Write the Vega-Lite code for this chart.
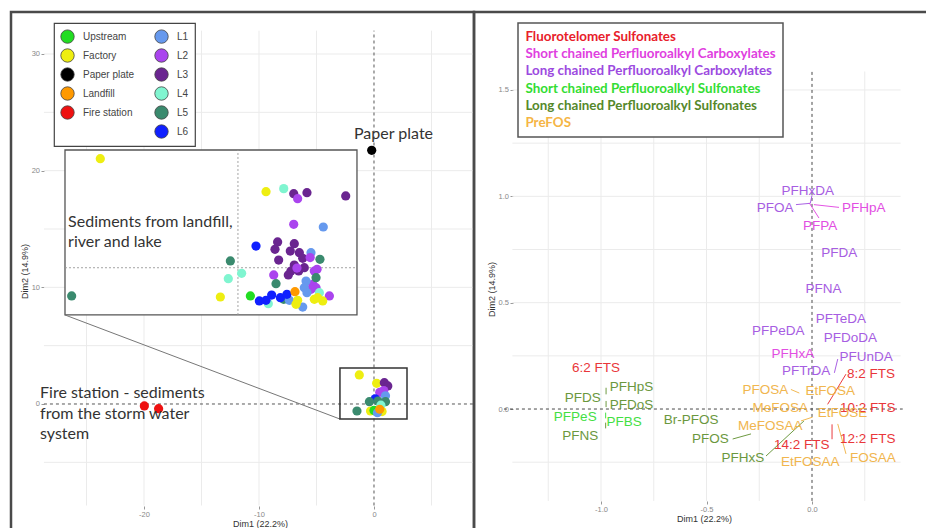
{
  "$schema": "https://vega.github.io/schema/vega-lite/v6.json",
  "background": "white",
  "padding": {"left": 9, "top": 10, "right": 0, "bottom": 0},
  "bounds": "flush",
  "spacing": 0,
  "resolve": {
    "scale": {"x": "independent", "y": "independent", "color": "independent"},
    "legend": {"color": "independent"}
  },
  "config": {
    "font": "Liberation Sans",
    "view": {"stroke": "#4a4a4a", "strokeWidth": 2.5},
    "axis": {
      "grid": false, "domain": false, "tickColor": "#999", "tickSize": 3,
      "labelFont": "Liberation Sans", "labelFontSize": 7.5, "labelColor": "#888", "labelPadding": 1.5,
      "titleFont": "Liberation Sans", "titleFontSize": 9, "titleFontWeight": "normal", "titleColor": "#333", "titlePadding": 1.5
    }
  },
  "datasets": {
    "gridL": [
      {"x": -25, "x2": -25, "y": -8.7, "y2": 32},
      {"x": -20, "x2": -20, "y": -8.7, "y2": 32},
      {"x": -15, "x2": -15, "y": -8.7, "y2": 32},
      {"x": -10, "x2": -10, "y": -8.7, "y2": 32},
      {"x": -5, "x2": -5, "y": -8.7, "y2": 32},
      {"x": 5, "x2": 5, "y": -8.7, "y2": 32},
      {"x": -28.7, "x2": 8.6, "y": -5, "y2": -5},
      {"x": -28.7, "x2": 8.6, "y": 5, "y2": 5},
      {"x": -28.7, "x2": 8.6, "y": 10, "y2": 10},
      {"x": -28.7, "x2": 8.6, "y": 15, "y2": 15},
      {"x": -28.7, "x2": 8.6, "y": 20, "y2": 20},
      {"x": -28.7, "x2": 8.6, "y": 25, "y2": 25},
      {"x": -28.7, "x2": 8.6, "y": 30, "y2": 30}
    ],
    "refL": [
      {"x": 0, "x2": 0, "y": -8.7, "y2": 32},
      {"x": -28.7, "x2": 8.6, "y": 0, "y2": 0}
    ],
    "insetBox": [{"x": -26.87, "x2": -1.48, "y": 7.63, "y2": 21.77}],
    "insetLines": [
      {"x": -11.83, "x2": -11.83, "y": 7.63, "y2": 21.77},
      {"x": -26.87, "x2": -1.48, "y": 11.68, "y2": 11.68}
    ],
    "connector": [{"x": -26.87, "y": 7.63, "x2": -2.96, "y2": -1.29}],
    "smallBox": [{"x": -2.96, "x2": 2.87, "y": -1.29, "y2": 3.09}],
    "points": [
      {"site": "Paper plate", "x": -0.2, "y": 21.74},
      {"site": "Fire station", "x": -19.97, "y": -0.17},
      {"site": "Fire station", "x": -18.73, "y": -0.4},
      {"site": "Factory", "x": -1.28, "y": 2.49},
      {"site": "Factory", "x": 0.23, "y": 1.77},
      {"site": "L3", "x": 0.9, "y": 1.83},
      {"site": "L3", "x": 1.2, "y": 1.55},
      {"site": "L2", "x": 0.5, "y": 1.0},
      {"site": "L2", "x": 0.85, "y": 1.15},
      {"site": "L1", "x": 1.0, "y": 0.7},
      {"site": "L6", "x": 0.1, "y": 0.45},
      {"site": "L5", "x": -0.4, "y": 0.2},
      {"site": "L5", "x": 0.35, "y": 0.25},
      {"site": "L5", "x": 1.0, "y": 0.2},
      {"site": "L4", "x": 0.6, "y": -0.1},
      {"site": "L5", "x": -1.48, "y": -0.6},
      {"site": "Factory", "x": -0.3, "y": -0.6},
      {"site": "Upstream", "x": 0.0, "y": -0.55},
      {"site": "Factory", "x": 0.7, "y": -0.65},
      {"site": "L1", "x": 0.3, "y": -0.75},
      {"site": "Landfill", "x": 0.5, "y": -0.45},
      {"site": "Factory", "x": -23.8, "y": 21.03},
      {"site": "Factory", "x": -9.39, "y": 18.2},
      {"site": "L4", "x": -7.85, "y": 18.46},
      {"site": "L3", "x": -6.98, "y": 18.03},
      {"site": "L3", "x": -5.83, "y": 18.11},
      {"site": "L2", "x": -6.64, "y": 17.6},
      {"site": "L3", "x": -2.46, "y": 17.83},
      {"site": "L2", "x": -6.98, "y": 15.4},
      {"site": "L1", "x": -4.41, "y": 15.17},
      {"site": "L6", "x": -10.26, "y": 13.54},
      {"site": "L3", "x": -8.38, "y": 13.89},
      {"site": "L3", "x": -8.61, "y": 13.26},
      {"site": "L3", "x": -6.93, "y": 13.74},
      {"site": "L3", "x": -7.28, "y": 13.11},
      {"site": "L3", "x": -6.49, "y": 12.97},
      {"site": "L3", "x": -8.29, "y": 12.34},
      {"site": "L3", "x": -6.2, "y": 12.49},
      {"site": "L3", "x": -6.93, "y": 11.91},
      {"site": "L3", "x": -7.22, "y": 11.4},
      {"site": "L3", "x": -6.55, "y": 11.4},
      {"site": "L3", "x": -7.45, "y": 11.06},
      {"site": "L3", "x": -6.06, "y": 11.68},
      {"site": "L1", "x": -5.48, "y": 12.97},
      {"site": "L2", "x": -5.55, "y": 12.55},
      {"site": "L2", "x": -6.7, "y": 11.65},
      {"site": "L2", "x": -5.19, "y": 11.4},
      {"site": "L2", "x": -4.95, "y": 11.55},
      {"site": "L2", "x": -5.33, "y": 10.26},
      {"site": "L2", "x": -5.04, "y": 9.97},
      {"site": "L2", "x": -5.48, "y": 9.83},
      {"site": "L2", "x": -3.88, "y": 9.26},
      {"site": "L2", "x": -8.72, "y": 11.06},
      {"site": "L5", "x": -12.49, "y": 12.26},
      {"site": "L5", "x": -4.7, "y": 12.4},
      {"site": "L5", "x": -5.04, "y": 10.83},
      {"site": "L5", "x": -8.52, "y": 10.31},
      {"site": "L5", "x": -7.85, "y": 8.97},
      {"site": "L5", "x": -26.29, "y": 9.26},
      {"site": "L4", "x": -12.67, "y": 10.74},
      {"site": "L4", "x": -11.51, "y": 11.2},
      {"site": "L4", "x": -9.19, "y": 8.6},
      {"site": "L4", "x": -4.75, "y": 9.54},
      {"site": "L1", "x": -5.91, "y": 10.54},
      {"site": "L1", "x": -6.06, "y": 9.97},
      {"site": "L1", "x": -5.83, "y": 9.54},
      {"site": "L1", "x": -6.2, "y": 8.31},
      {"site": "L1", "x": -7.36, "y": 8.89},
      {"site": "L6", "x": -9.97, "y": 8.83},
      {"site": "L6", "x": -8.9, "y": 9.34},
      {"site": "L6", "x": -8.14, "y": 9.11},
      {"site": "L6", "x": -7.57, "y": 9.4},
      {"site": "L6", "x": -9.39, "y": 8.89},
      {"site": "Upstream", "x": -10.75, "y": 9.26},
      {"site": "Landfill", "x": -6.87, "y": 9.63},
      {"site": "Factory", "x": -13.36, "y": 9.17},
      {"site": "Factory", "x": -6.64, "y": 8.89},
      {"site": "Factory", "x": -6.78, "y": 8.54},
      {"site": "Factory", "x": -5.19, "y": 8.97},
      {"site": "Factory", "x": -4.46, "y": 8.83},
      {"site": "Factory", "x": -4.9, "y": 9.11}
    ],
    "notes": [
      {"label": "Paper plate", "x": -1.74, "y": 23.17},
      {"label": "Sediments from landfill,\nriver and lake", "x": -26.6, "y": 15.63},
      {"label": "Fire station - sediments\nfrom the storm water\nsystem", "x": -29.04, "y": 0.9}
    ],
    "gridR": [
      {"x": -1.25, "x2": -1.25, "y": -0.432, "y2": 1.587},
      {"x": -1.0, "x2": -1.0, "y": -0.432, "y2": 1.587},
      {"x": -0.75, "x2": -0.75, "y": -0.432, "y2": 1.587},
      {"x": -0.5, "x2": -0.5, "y": -0.432, "y2": 1.587},
      {"x": -0.25, "x2": -0.25, "y": -0.432, "y2": 1.587},
      {"x": 0.25, "x2": 0.25, "y": -0.432, "y2": 1.587},
      {"x": -1.42, "x2": 0.42, "y": -0.25, "y2": -0.25},
      {"x": -1.42, "x2": 0.42, "y": 0.25, "y2": 0.25},
      {"x": -1.42, "x2": 0.42, "y": 0.5, "y2": 0.5},
      {"x": -1.42, "x2": 0.42, "y": 0.75, "y2": 0.75},
      {"x": -1.42, "x2": 0.42, "y": 1.0, "y2": 1.0},
      {"x": -1.42, "x2": 0.42, "y": 1.25, "y2": 1.25},
      {"x": -1.42, "x2": 0.42, "y": 1.5, "y2": 1.5}
    ],
    "refR": [
      {"x": 0, "x2": 0, "y": -0.432, "y2": 1.587},
      {"x": -1.46, "x2": 0.43, "y": 0, "y2": 0}
    ],
    "segments": [
      {"group": "Long chained Perfluoroalkyl Carboxylates", "x": -0.076, "y": 0.961, "x2": -0.009, "y2": 0.967},
      {"group": "Short chained Perfluoroalkyl Carboxylates", "x": 0.009, "y": 0.961, "x2": 0.128, "y2": 0.948},
      {"group": "Short chained Perfluoroalkyl Carboxylates", "x": -0.013, "y": 0.969, "x2": 0.033, "y2": 0.898},
      {"group": "Long chained Perfluoroalkyl Carboxylates", "x": 0.0, "y": 1.005, "x2": -0.008, "y2": 0.967},
      {"group": "Long chained Perfluoroalkyl Carboxylates", "x": 0.122, "y": 0.235, "x2": 0.106, "y2": 0.17},
      {"group": "Fluorotelomer Sulfonates", "x": 0.161, "y": 0.164, "x2": 0.074, "y2": 0.022},
      {"group": "PreFOS", "x": -0.1, "y": 0.092, "x2": -0.06, "y2": 0.075},
      {"group": "Long chained Perfluoroalkyl Sulfonates", "x": -0.376, "y": -0.141, "x2": -0.289, "y2": -0.117},
      {"group": "Long chained Perfluoroalkyl Sulfonates", "x": -0.218, "y": -0.221, "x2": -0.038, "y2": -0.056},
      {"group": "Fluorotelomer Sulfonates", "x": 0.095, "y": -0.072, "x2": 0.095, "y2": -0.142},
      {"group": "PreFOS", "x": 0.122, "y": -0.07, "x2": 0.161, "y2": -0.211},
      {"group": "PreFOS", "x": -0.052, "y": -0.056, "x2": 0.003, "y2": -0.038},
      {"group": "Long chained Perfluoroalkyl Sulfonates", "x": -0.976, "y": 0.1, "x2": -0.976, "y2": 0.069},
      {"group": "Long chained Perfluoroalkyl Sulfonates", "x": -0.976, "y": 0.038, "x2": -0.976, "y2": 0.009},
      {"group": "Short chained Perfluoroalkyl Sulfonates", "x": -0.978, "y": -0.017, "x2": -0.978, "y2": -0.044},
      {"group": "Long chained Perfluoroalkyl Sulfonates", "x": -0.978, "y": -0.064, "x2": -0.978, "y2": -0.091}
    ],
    "labels": [
      {"name": "PFHxDA", "group": "Long chained Perfluoroalkyl Carboxylates", "x": -0.02, "y": 1.027},
      {"name": "PFOA", "group": "Long chained Perfluoroalkyl Carboxylates", "x": -0.175, "y": 0.945},
      {"name": "PFHpA", "group": "Short chained Perfluoroalkyl Carboxylates", "x": 0.245, "y": 0.945},
      {"name": "PFPA", "group": "Short chained Perfluoroalkyl Carboxylates", "x": 0.039, "y": 0.862},
      {"name": "PFDA", "group": "Long chained Perfluoroalkyl Carboxylates", "x": 0.129, "y": 0.734},
      {"name": "PFNA", "group": "Long chained Perfluoroalkyl Carboxylates", "x": 0.054, "y": 0.562},
      {"name": "PFTeDA", "group": "Long chained Perfluoroalkyl Carboxylates", "x": 0.137, "y": 0.421},
      {"name": "PFPeDA", "group": "Long chained Perfluoroalkyl Carboxylates", "x": -0.16, "y": 0.366},
      {"name": "PFDoDA", "group": "Long chained Perfluoroalkyl Carboxylates", "x": 0.182, "y": 0.335},
      {"name": "PFHxA", "group": "Short chained Perfluoroalkyl Carboxylates", "x": -0.091, "y": 0.257},
      {"name": "PFUnDA", "group": "Long chained Perfluoroalkyl Carboxylates", "x": 0.256, "y": 0.246},
      {"name": "PFTrDA", "group": "Long chained Perfluoroalkyl Carboxylates", "x": -0.028, "y": 0.178},
      {"name": "8:2 FTS", "group": "Fluorotelomer Sulfonates", "x": 0.28, "y": 0.166},
      {"name": "6:2 FTS", "group": "Fluorotelomer Sulfonates", "x": -1.024, "y": 0.191},
      {"name": "PFHpS", "group": "Long chained Perfluoroalkyl Sulfonates", "x": -0.855, "y": 0.105},
      {"name": "PFDS", "group": "Long chained Perfluoroalkyl Sulfonates", "x": -1.087, "y": 0.053},
      {"name": "PFDoS", "group": "Long chained Perfluoroalkyl Sulfonates", "x": -0.855, "y": 0.019},
      {"name": "PFPeS", "group": "Short chained Perfluoroalkyl Sulfonates", "x": -1.122, "y": -0.038},
      {"name": "PFBS", "group": "Short chained Perfluoroalkyl Sulfonates", "x": -0.89, "y": -0.061},
      {"name": "PFNS", "group": "Long chained Perfluoroalkyl Sulfonates", "x": -1.098, "y": -0.127},
      {"name": "Br-PFOS", "group": "Long chained Perfluoroalkyl Sulfonates", "x": -0.573, "y": -0.052},
      {"name": "PFOS", "group": "Long chained Perfluoroalkyl Sulfonates", "x": -0.482, "y": -0.142},
      {"name": "PFHxS", "group": "Long chained Perfluoroalkyl Sulfonates", "x": -0.328, "y": -0.231},
      {"name": "PFOSA", "group": "PreFOS", "x": -0.221, "y": 0.088},
      {"name": "EtFOSA", "group": "PreFOS", "x": 0.087, "y": 0.085},
      {"name": "MeFOSA", "group": "PreFOS", "x": -0.15, "y": 0.006},
      {"name": "10:2 FTS", "group": "Fluorotelomer Sulfonates", "x": 0.264, "y": 0.006},
      {"name": "EtFOSE", "group": "PreFOS", "x": 0.145, "y": -0.017},
      {"name": "MeFOSAA", "group": "PreFOS", "x": -0.198, "y": -0.08},
      {"name": "12:2 FTS", "group": "Fluorotelomer Sulfonates", "x": 0.264, "y": -0.142},
      {"name": "14:2 FTS", "group": "Fluorotelomer Sulfonates", "x": -0.049, "y": -0.169},
      {"name": "FOSAA", "group": "PreFOS", "x": 0.288, "y": -0.229},
      {"name": "EtFOSAA", "group": "PreFOS", "x": -0.008, "y": -0.247}
    ]
  },
  "hconcat": [
    {
      "width": 463,
      "height": 530,
      "encoding": {
        "x": {"field": "x", "type": "quantitative",
          "scale": {"domain": [-31.565, 8.696], "nice": false, "zero": false},
          "axis": {"title": "Dim1 (22.2%)", "values": [-20, -10, 0], "offset": -36, "titleX": 249,
            "labelExpr": "replace(datum.label, '\u2212', '-')"}},
        "y": {"field": "y", "type": "quantitative",
          "scale": {"domain": [-11.83, 33.6], "nice": false, "zero": false},
          "axis": {"title": "Dim2 (14.9%)", "values": [0, 10, 20, 30], "offset": -33, "titleY": 259,
            "labelExpr": "replace(datum.label, '\u2212', '-')"}}
      },
      "layer": [
        {
          "data": {"name": "gridL"},
          "mark": {"type": "rule", "color": "#ebebeb", "strokeWidth": 1},
          "encoding": {"x2": {"field": "x2"}, "y2": {"field": "y2"}}
        },
        {
          "data": {"name": "refL"},
          "mark": {"type": "rule", "color": "#444", "strokeWidth": 0.9, "strokeDash": [3, 3]},
          "encoding": {"x2": {"field": "x2"}, "y2": {"field": "y2"}}
        },
        {
          "data": {"name": "insetBox"},
          "mark": {"type": "rect", "fill": "white", "stroke": "#555", "strokeWidth": 1.3},
          "encoding": {"x2": {"field": "x2"}, "y2": {"field": "y2"}}
        },
        {
          "data": {"name": "insetLines"},
          "mark": {"type": "rule", "color": "#999", "strokeWidth": 0.9, "strokeDash": [2, 2]},
          "encoding": {"x2": {"field": "x2"}, "y2": {"field": "y2"}}
        },
        {
          "data": {"name": "connector"},
          "mark": {"type": "rule", "color": "#777", "strokeWidth": 1},
          "encoding": {"x2": {"field": "x2"}, "y2": {"field": "y2"}}
        },
        {
          "data": {"name": "points"},
          "mark": {"type": "circle", "size": 85, "opacity": 1},
          "encoding": {
            "color": {
              "field": "site", "type": "nominal",
              "scale": {
                "domain": ["Upstream", "Factory", "Paper plate", "Landfill", "Fire station", " ", "L1", "L2", "L3", "L4", "L5", "L6"],
                "range": ["#22dd22", "#eeee11", "#000000", "#ff9900", "#ee1111", "#ffffff", "#6699ee", "#aa44ee", "#6a2590", "#80f5d0", "#3a8a6e", "#1020ff"]
              },
              "legend": {
                "orient": "none", "legendX": 43, "legendY": 11, "columns": 2, "title": null,
                "symbolType": "circle", "symbolSize": 180, "symbolOpacity": 1,
                "labelFont": "Liberation Sans", "labelFontSize": 10, "labelColor": "#444", "labelOffset": 8,
                "padding": 6, "rowPadding": 2, "columnPadding": 18,
                "strokeColor": "#444", "fillColor": "white",
                "encode": {
                  "symbols": {"update": {"stroke": {"signal": "datum.value === ' ' ? 'transparent' : '#444'"}, "strokeWidth": {"value": 0.8}}},
                  "legend": {"update": {"strokeWidth": {"value": 1.2}}}
                }
              }
            }
          }
        },
        {
          "data": {"name": "smallBox"},
          "mark": {"type": "rect", "fill": null, "fillOpacity": 0, "stroke": "#333", "strokeWidth": 1.5},
          "encoding": {"x2": {"field": "x2"}, "y2": {"field": "y2"}}
        },
        {
          "data": {"name": "notes"},
          "mark": {"type": "text", "font": "Lato", "fontSize": 16, "color": "#333", "align": "left", "baseline": "middle", "lineBreak": "\n", "lineHeight": 20.5},
          "encoding": {"text": {"field": "label"}}
        }
      ]
    },
    {
      "width": 460,
      "height": 530,
      "encoding": {
        "x": {"field": "x", "type": "quantitative",
          "scale": {"domain": [-1.6019, 0.5782], "nice": false, "zero": false},
          "axis": {"title": "Dim1 (22.2%)", "values": [-1, -0.5, 0], "offset": -41,
            "labelExpr": "replace(format(datum.value, '.1f'), '\u2212', '-')"}},
        "y": {"field": "y", "type": "quantitative",
          "scale": {"domain": [-0.6252, 1.8666], "nice": false, "zero": false},
          "axis": {"title": "Dim2 (14.9%)", "values": [0, 0.5, 1, 1.5], "offset": -39, "titleY": 277,
            "labelExpr": "replace(format(datum.value, '.1f'), '\u2212', '-')"}}
      },
      "layer": [
        {
          "data": {"name": "gridR"},
          "mark": {"type": "rule", "color": "#ebebeb", "strokeWidth": 1},
          "encoding": {"x2": {"field": "x2"}, "y2": {"field": "y2"}}
        },
        {
          "data": {"name": "refR"},
          "mark": {"type": "rule", "color": "#333", "strokeWidth": 0.9, "strokeDash": [3, 3]},
          "encoding": {"x2": {"field": "x2"}, "y2": {"field": "y2"}}
        },
        {
          "data": {"name": "segments"},
          "mark": {"type": "rule", "strokeWidth": 1, "opacity": 0.9},
          "encoding": {
            "x2": {"field": "x2"}, "y2": {"field": "y2"},
            "color": {"field": "group", "type": "nominal"}
          }
        },
        {
          "data": {"name": "labels"},
          "mark": {"type": "text", "font": "Liberation Sans", "fontSize": 13.5, "align": "center", "baseline": "middle", "opacity": 0.92},
          "encoding": {
            "text": {"field": "name"},
            "color": {
              "field": "group", "type": "nominal",
              "scale": {
                "domain": ["Fluorotelomer Sulfonates", "Short chained Perfluoroalkyl Carboxylates", "Long chained Perfluoroalkyl Carboxylates", "Short chained Perfluoroalkyl Sulfonates", "Long chained Perfluoroalkyl Sulfonates", "PreFOS"],
                "range": ["#e8262a", "#e040e0", "#a050e0", "#33dd33", "#5e8f2e", "#f0b040"]
              },
              "legend": {
                "orient": "none", "legendX": 44, "legendY": 11, "title": null,
                "symbolSize": 0, "symbolOpacity": 0, "symbolStrokeWidth": 0, "labelOffset": -13,
                "labelFont": "Lato", "labelFontSize": 13.4, "labelFontWeight": "bold", "labelLimit": 400,
                "padding": 7, "rowPadding": 2.3,
                "strokeColor": "#555", "fillColor": "white",
                "encode": {
                  "labels": {"update": {"fill": {"signal": "datum.value === 'Fluorotelomer Sulfonates' ? '#e8202a' : datum.value === 'Short chained Perfluoroalkyl Carboxylates' ? '#e040e0' : datum.value === 'Long chained Perfluoroalkyl Carboxylates' ? '#9c4ae0' : datum.value === 'Short chained Perfluoroalkyl Sulfonates' ? '#33dd33' : datum.value === 'Long chained Perfluoroalkyl Sulfonates' ? '#55882a' : '#f5b545'"}}},
                  "legend": {"update": {"strokeWidth": {"value": 1.5}}}
                }
              }
            }
          }
        }
      ]
    }
  ]
}
